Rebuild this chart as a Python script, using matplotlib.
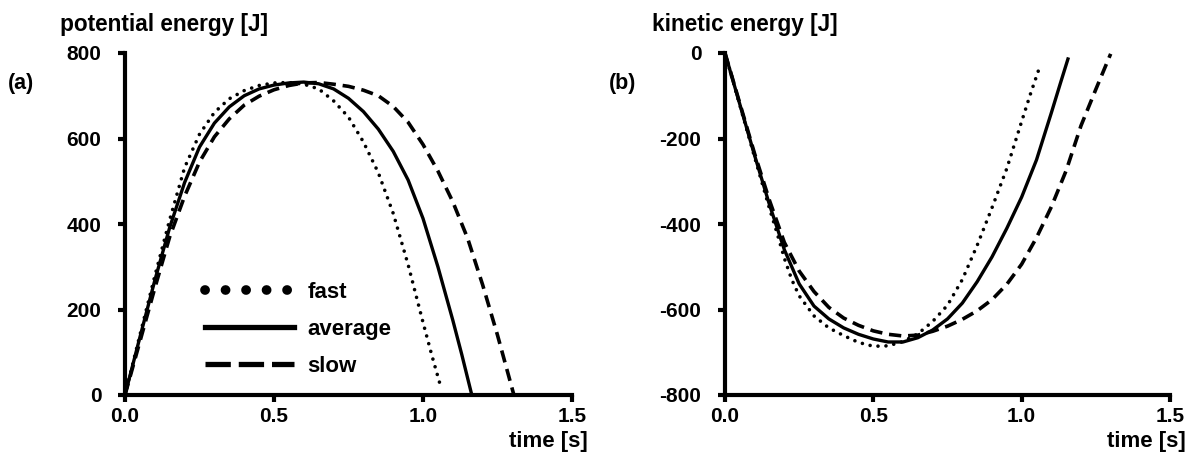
import matplotlib
matplotlib.use("Agg")
import matplotlib.pyplot as plt
from matplotlib.lines import Line2D

plt.rcParams["font.family"] = ["Liberation Sans", "DejaVu Sans"]
plt.rcParams["font.weight"] = "bold"
plt.rcParams["axes.unicode_minus"] = False

# ----------------------------------
# Data
# ----------------------------------
series = ["fast", "average", "slow"]

# (a) potential energy [J]
pe_fast_t = [0, 0.05, 0.10, 0.15, 0.20, 0.25, 0.30, 0.35, 0.40, 0.45, 0.50, 0.55,
             0.60, 0.65, 0.70, 0.75, 0.80, 0.85, 0.90, 0.95, 1.00, 1.03, 1.056]
pe_fast_e = [0, 140, 278, 410, 532, 610, 661, 693, 712, 724, 730, 731,
             727, 716, 688, 650, 592, 520, 425, 305, 170, 92, 28]

pe_avg_t = [0, 0.05, 0.10, 0.15, 0.20, 0.25, 0.30, 0.35, 0.40, 0.45, 0.50, 0.55,
            0.60, 0.65, 0.70, 0.75, 0.80, 0.85, 0.90, 0.95, 1.00, 1.05, 1.10, 1.13, 1.162]
pe_avg_e = [0, 135, 268, 392, 497, 580, 636, 674, 700, 716, 725, 730,
            732, 728, 716, 694, 663, 622, 570, 503, 413, 300, 175, 95, 5]

pe_slow_t = [0, 0.05, 0.10, 0.15, 0.20, 0.25, 0.30, 0.35, 0.40, 0.45, 0.50, 0.55, 0.60,
             0.65, 0.70, 0.75, 0.80, 0.85, 0.90, 0.95, 1.00, 1.05, 1.10, 1.15, 1.20,
             1.25, 1.305]
pe_slow_e = [0, 125, 250, 370, 465, 545, 604, 646, 678, 699, 714, 724, 730,
             731, 727, 722, 713, 700, 675, 638, 586, 524, 452, 366, 258,
             140, 0]

# (b) kinetic energy [J]
ke_fast_t = [0, 0.05, 0.10, 0.15, 0.175, 0.20, 0.225, 0.25, 0.30, 0.35, 0.40, 0.45,
             0.50, 0.55, 0.60, 0.65, 0.70, 0.75, 0.80, 0.85, 0.90, 0.95, 1.00,
             1.03, 1.062]
ke_fast_e = [0, -122, -244, -364, -420, -480, -530, -568, -615, -643, -661, -677,
             -686, -685, -675, -657, -628, -590, -530, -450, -362, -270, -160,
             -95, -30]

ke_avg_t = [0, 0.05, 0.10, 0.15, 0.20, 0.25, 0.30, 0.35, 0.40, 0.45, 0.50, 0.55,
            0.60, 0.65, 0.70, 0.75, 0.80, 0.85, 0.90, 0.95, 1.00, 1.05, 1.10,
            1.13, 1.156]
ke_avg_e = [0, -120, -240, -355, -460, -540, -592, -622, -643, -658, -669, -676,
            -676, -666, -648, -622, -585, -535, -477, -410, -337, -250, -140,
            -72, -14]

ke_slow_t = [0, 0.05, 0.10, 0.15, 0.20, 0.25, 0.30, 0.35, 0.40, 0.45, 0.50, 0.55,
             0.60, 0.65, 0.70, 0.75, 0.80, 0.85, 0.90, 0.95, 1.00, 1.05, 1.10,
             1.15, 1.20, 1.25, 1.30]
ke_slow_e = [0, -118, -236, -345, -443, -510, -558, -595, -620, -637, -650, -658,
             -662, -660, -651, -639, -623, -603, -577, -541, -494, -432, -360,
             -275, -170, -85, -2]

x_ticks = [0, 0.5, 1.0, 1.5]
x_labels = ["0.0", "0.5", "1.0", "1.5"]

# line styles for fast / average / slow
styles = {
    "fast": dict(color="black", lw=2.6, linestyle=(0, (0.01, 2.2)), dash_capstyle="round"),
    "average": dict(color="black", lw=2.4, linestyle="-"),
    "slow": dict(color="black", lw=2.6, linestyle=(0, (3.4, 1.9))),
}

fig = plt.figure(figsize=(11.89, 4.57), dpi=100)
ax1 = fig.add_axes([125 / 1189, 62 / 457, 447 / 1189, 342 / 457])
ax2 = fig.add_axes([725 / 1189, 62 / 457, 445 / 1189, 342 / 457])


def style_axes(ax):
    for side in ["top", "right"]:
        ax.spines[side].set_visible(False)
    for side in ["left", "bottom"]:
        ax.spines[side].set_linewidth(3)
    ax.tick_params(axis="both", direction="out", length=5, width=3, labelsize=15)
    ax.tick_params(axis="x", pad=4)
    ax.tick_params(axis="y", pad=12)
    ax.set_xlim(0, 1.5)
    ax.set_xticks(x_ticks)
    ax.set_xticklabels(x_labels)
    for lab in ax.get_xticklabels() + ax.get_yticklabels():
        lab.set_fontweight("bold")


# ----------------------------------
# (a) potential energy
# ----------------------------------
ax1.plot(pe_fast_t, pe_fast_e, **styles["fast"])
ax1.plot(pe_avg_t, pe_avg_e, **styles["average"])
ax1.plot(pe_slow_t, pe_slow_e, **styles["slow"])
ax1.set_ylim(0, 800)
ax1.set_yticks([0, 200, 400, 600, 800])
style_axes(ax1)

handles = [
    Line2D([], [], color="black", lw=7, linestyle=(0, (0.01, 2.1)), dash_capstyle="round"),
    Line2D([], [], color="black", lw=3.8, linestyle="-"),
    Line2D([], [], color="black", lw=3.8, linestyle=(0, (4.8, 1.5))),
]
ax1.legend(handles, series, loc="upper left", bbox_to_anchor=(0.135, 0.39),
           frameon=False, handlelength=4.0, handletextpad=0.6,
           labelspacing=0.72, prop={"weight": "bold", "size": 16})

# ----------------------------------
# (b) kinetic energy
# ----------------------------------
ax2.plot(ke_fast_t, ke_fast_e, **styles["fast"])
ax2.plot(ke_avg_t, ke_avg_e, **styles["average"])
ax2.plot(ke_slow_t, ke_slow_e, **styles["slow"])
ax2.set_ylim(-800, 0)
ax2.set_yticks([-800, -600, -400, -200, 0])
style_axes(ax2)

# ----------------------------------
# Labels
# ----------------------------------
fig.text(60 / 1189, 1 - 25 / 457, "potential energy [J]", fontsize=16.3,
         fontweight="bold", va="center", ha="left")
fig.text(652 / 1189, 1 - 25 / 457, "kinetic energy [J]", fontsize=16.3,
         fontweight="bold", va="center", ha="left")
fig.text(8 / 1189, 1 - 83 / 457, "(a)", fontsize=15.5, fontweight="bold", va="center")
fig.text(609 / 1189, 1 - 83 / 457, "(b)", fontsize=15.5, fontweight="bold", va="center")
fig.text(588 / 1189, 1 - 442 / 457, "time [s]", fontsize=16, fontweight="bold",
         va="center", ha="right")
fig.text(1186 / 1189, 1 - 442 / 457, "time [s]", fontsize=16, fontweight="bold",
         va="center", ha="right")

fig.savefig("out.png", dpi=100)
